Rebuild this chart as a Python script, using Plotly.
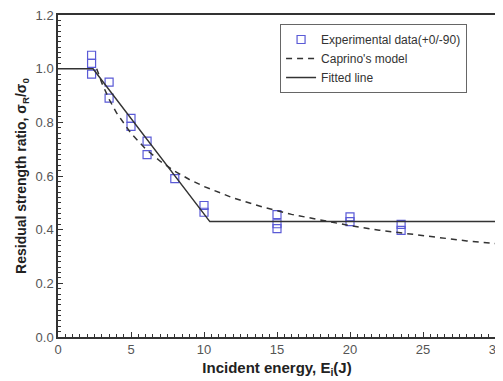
import plotly.graph_objects as go

# Experimental data (+0/-90)
exp_x = [2.3, 2.3, 2.3, 3.5, 3.5, 5.0, 5.0, 6.1, 6.1, 8.0, 10.0, 10.0,
         15.0, 15.0, 15.0, 20.0, 20.0, 23.5, 23.5]
exp_y = [1.05, 1.02, 0.98, 0.95, 0.89, 0.815, 0.785, 0.73, 0.68, 0.59, 0.49, 0.465,
         0.456, 0.422, 0.404, 0.448, 0.43, 0.42, 0.397]

# Caprino's model
cap_x = [2.65, 3, 3.5, 4, 5, 6, 7, 8, 9, 10, 12, 14, 16, 18, 20, 22, 24, 26, 28, 30]
cap_y = [1.0, 0.947, 0.886, 0.836, 0.759, 0.701, 0.655, 0.618, 0.587, 0.561,
         0.518, 0.485, 0.457, 0.435, 0.415, 0.398, 0.384, 0.370, 0.358, 0.348]

# Fitted line
fit_x = [0, 2.4, 10.4, 30]
fit_y = [1.0, 1.0, 0.43, 0.43]

FONT = "Arial, Liberation Sans, sans-serif"

fig = go.Figure()
fig.add_trace(go.Scatter(
    x=exp_x, y=exp_y, mode="markers", name="Experimental data(+0/-90)",
    marker=dict(symbol="square-open", size=8, color="#5a5ad6", line=dict(width=1.2)),
))
fig.add_trace(go.Scatter(
    x=cap_x, y=cap_y, mode="lines", name="Caprino's model",
    line=dict(color="#333333", width=1.5, dash="6px,5px"),
))
fig.add_trace(go.Scatter(
    x=fit_x, y=fit_y, mode="lines", name="Fitted line",
    line=dict(color="#333333", width=1.5),
))

axis_common = dict(
    showline=True, linecolor="#333333", linewidth=1.5, mirror=True,
    ticks="inside", ticklen=5, tickwidth=1, tickcolor="#333333",
    showgrid=False, zeroline=False, automargin=False,
    ticklabeloverflow="allow",
    tickfont=dict(family=FONT, size=13, color="#555555"),
)

fig.update_xaxes(
    range=[0, 30], tick0=0, dtick=5,
    minor=dict(ticks="inside", ticklen=3, dtick=0.5, tickcolor="#333333", showgrid=False),
    title=dict(text="<b>Incident energy, E<sub>i</sub>(J)</b>", standoff=6,
               font=dict(family=FONT, size=15, color="#222222")),
    **axis_common,
)
fig.update_yaxes(
    range=[0, 1.2], tick0=0, dtick=0.2, tickformat=".1f",
    minor=dict(ticks="inside", ticklen=3, dtick=0.02, tickcolor="#333333", showgrid=False),
    title=dict(text="<b>Residual strength ratio, σ<sub>R</sub>/σ<sub>0</sub></b>", standoff=6,
               font=dict(family=FONT, size=14, color="#222222")),
    **axis_common,
)

# page body has an 8px default margin, so the figure is sized to fit the window
fig.update_layout(
    width=495, height=373,
    margin=dict(l=50, r=7, t=7, b=44),
    plot_bgcolor="white", paper_bgcolor="white",
    legend=dict(
        x=0.507, y=0.972, xanchor="left", yanchor="top",
        bordercolor="#666666", borderwidth=1, bgcolor="white",
        font=dict(family=FONT, size=12, color="#333333"),
        tracegroupgap=0, itemwidth=30,
    ),
    showlegend=True,
)

fig.write_html("out.html")
